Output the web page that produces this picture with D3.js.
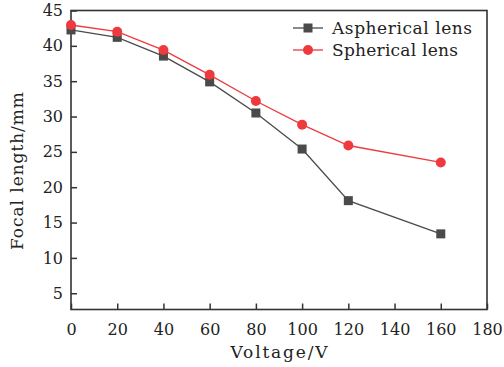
<!DOCTYPE html>
<html>
<head>
<meta charset="utf-8">
<script src="https://cdn.jsdelivr.net/npm/d3@7"></script>
<style>
  body { margin: 0; background: #fff; }
  svg text { font-family: "DejaVu Serif", serif; fill: #222; }
</style>
</head>
<body>
<svg id="chart" width="504" height="367"></svg>
<script>
// voltage (V) on x
const voltage = [0, 20, 40, 60, 80, 100, 120, 160];
// focal length (mm)
const aspherical = [42.25, 41.2, 38.55, 34.9, 30.5, 25.4, 18.1, 13.4];
const spherical = [42.95, 42.0, 39.4, 35.9, 32.2, 28.85, 25.9, 23.5];
const xTicks = [0, 20, 40, 60, 80, 100, 120, 140, 160, 180];
const yTicks = [5, 10, 15, 20, 25, 30, 35, 40, 45];

const svg = d3.select("#chart");
const m = { left: 71, right: 487, top: 10.5, bottom: 309.5 };

const x = d3.scaleLinear().domain([0, 180]).range([m.left, m.right]);
const y = d3.scaleLinear().domain([2.7, 45]).range([m.bottom, m.top]);

const axisColor = "#333";

// x axis, ticks pointing inward
const gx = svg.append("g")
  .attr("transform", "translate(0," + m.bottom + ")")
  .call(d3.axisBottom(x).tickValues(xTicks).tickSize(-6).tickPadding(14).tickSizeOuter(0));
gx.selectAll("text").style("font-size", "16px");

const gy = svg.append("g")
  .attr("transform", "translate(" + m.left + ",0)")
  .call(d3.axisLeft(y).tickValues(yTicks).tickSize(-6).tickPadding(8).tickSizeOuter(0));
gy.selectAll("text").style("font-size", "16px");

svg.selectAll(".domain").remove();
svg.selectAll(".tick line").attr("stroke", axisColor).attr("stroke-width", 1.5);
svg.selectAll(".tick text").attr("fill", "#222");

// frame
svg.append("rect")
  .attr("x", m.left).attr("y", m.top)
  .attr("width", m.right - m.left).attr("height", m.bottom - m.top)
  .attr("fill", "none").attr("stroke", axisColor).attr("stroke-width", 1.6);

const series = [
  { name: "Aspherical lens", values: aspherical, color: "#4a4a4a", shape: "square", len: 140 },
  { name: "Spherical lens", values: spherical, color: "#ee3a3f", shape: "circle", len: 126 }
];

const line = d3.line().x(d => x(d[0])).y(d => y(d[1]));

function marker(g, shape, cx, cy, color) {
  if (shape === "square") {
    g.append("rect").attr("x", cx - 4.5).attr("y", cy - 4.5)
      .attr("width", 9).attr("height", 9).attr("fill", color);
  } else {
    g.append("circle").attr("cx", cx).attr("cy", cy).attr("r", 5).attr("fill", color);
  }
}

series.forEach(s => {
  const pts = voltage.map((v, i) => [v, s.values[i]]);
  svg.append("path").datum(pts)
    .attr("d", line).attr("fill", "none")
    .attr("stroke", s.color).attr("stroke-width", 1.3);
  const g = svg.append("g");
  pts.forEach(p => marker(g, s.shape, x(p[0]), y(p[1]), s.color));
});

// legend
series.forEach((s, i) => {
  const ly = 28 + i * 22;
  const g = svg.append("g");
  g.append("line").attr("x1", 293).attr("x2", 323).attr("y1", ly).attr("y2", ly)
    .attr("stroke", s.color).attr("stroke-width", 1.3);
  marker(g, s.shape, 308, ly, s.color);
  g.append("text").attr("x", 332).attr("y", ly + 6)
    .attr("textLength", s.len).attr("lengthAdjust", "spacing")
    .style("font-size", "17px").text(s.name);
});

// axis titles
svg.append("text")
  .attr("x", 279).attr("y", 358)
  .attr("text-anchor", "middle").style("font-size", "17px")
  .attr("textLength", 97).attr("lengthAdjust", "spacing")
  .text("Voltage/V");

svg.append("text")
  .attr("transform", "translate(23,171) rotate(-90)")
  .attr("text-anchor", "middle").style("font-size", "17px")
  .attr("textLength", 158).attr("lengthAdjust", "spacing")
  .text("Focal length/mm");
</script>
</body>
</html>
